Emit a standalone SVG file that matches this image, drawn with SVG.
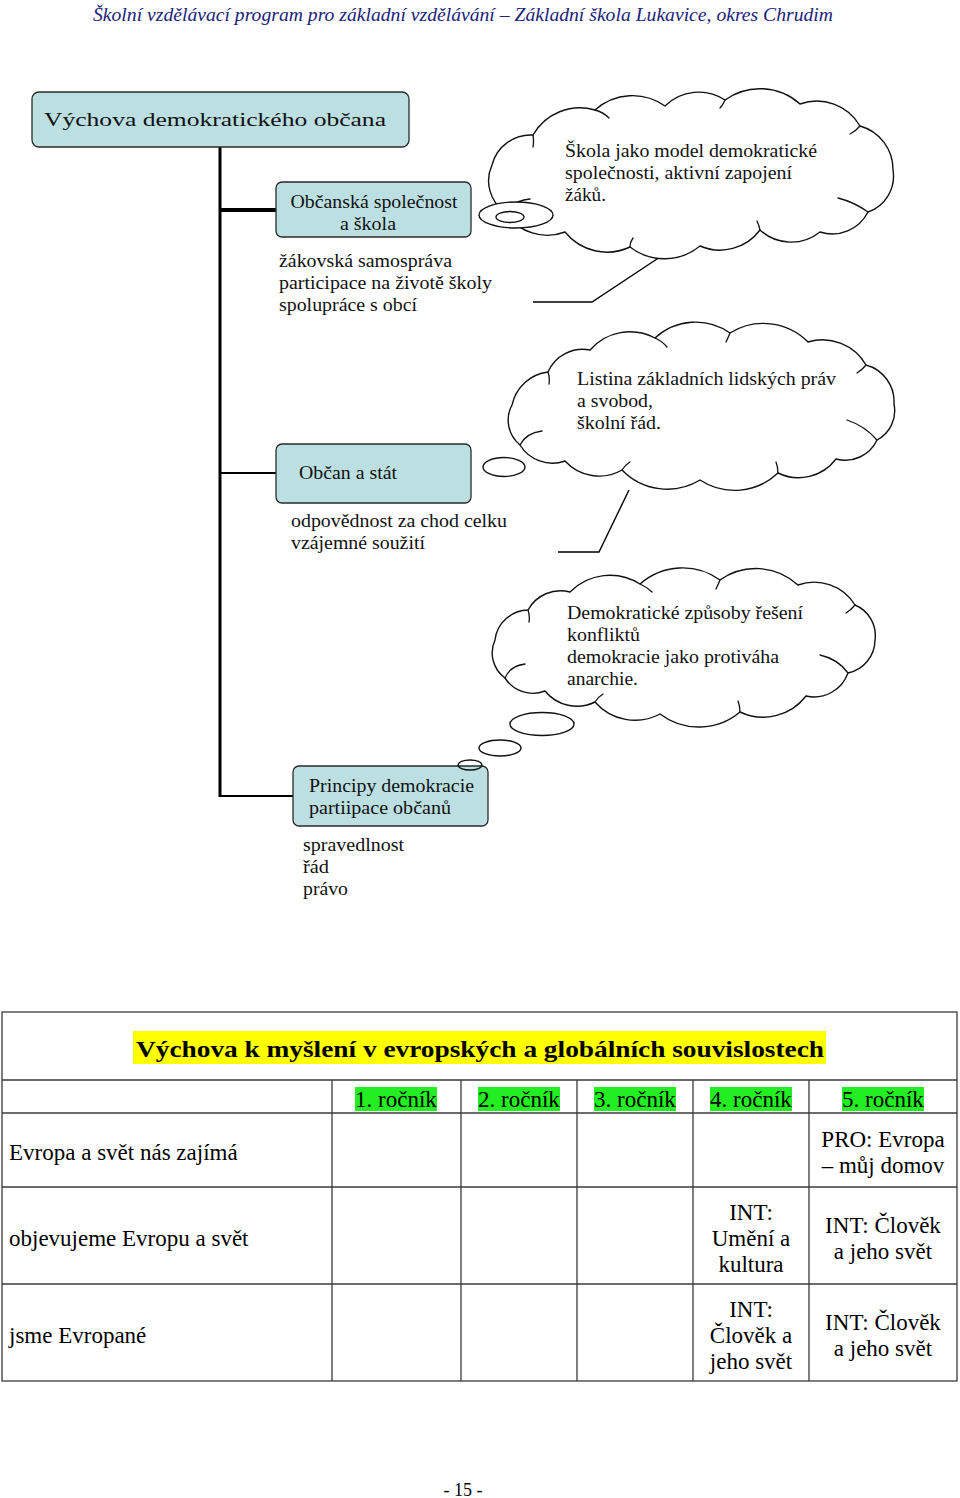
<svg xmlns="http://www.w3.org/2000/svg" width="960" height="1498" viewBox="0 0 960 1498">
<style>
.t{font-family:"Liberation Serif","Times New Roman",serif;fill:#111;font-size:18px}
.box{fill:#BCDFE2;stroke:#2a2a2a;stroke-width:1.3}
.cloud{fill:#fff;stroke:#111;stroke-width:1.4;stroke-linejoin:round}
.deco{fill:none;stroke:#111;stroke-width:1.3;stroke-linecap:round}
.bub{fill:#fff;stroke:#111;stroke-width:1.4}
.conn{stroke:#000;fill:none}
.tl{stroke:#3a3a3a;stroke-width:1.3;fill:none}
.tt{font-family:"Liberation Serif","Times New Roman",serif;fill:#000;font-size:23px}
.c{text-anchor:middle}
</style>
<rect width="960" height="1498" fill="#fff"/>
<text x="463" y="21" text-anchor="middle" font-family="Liberation Serif, serif" font-style="italic" font-size="18" fill="#1c237a" textLength="740" lengthAdjust="spacingAndGlyphs">Školní vzdělávací program pro základní vzdělávání – Základní škola Lukavice, okres Chrudim</text>

<g id="connectors">
<line class="conn" x1="220" y1="147" x2="220" y2="797" stroke-width="3"/>
<line class="conn" x1="219" y1="210" x2="277" y2="210" stroke-width="4"/>
<line class="conn" x1="219" y1="473" x2="277" y2="473" stroke-width="2.2"/>
<line class="conn" x1="219" y1="796" x2="294" y2="796" stroke-width="2.2"/>
<polyline class="conn" stroke-width="1.4" points="660,257 592,302 533,302"/>
<polyline class="conn" stroke-width="1.4" points="629,490 599,552 558,552"/>
</g>

<g id="root">
<rect class="box" x="32" y="92" width="377" height="55" rx="7"/>
<text class="t" x="44" y="126" font-size="24" textLength="342" lengthAdjust="spacingAndGlyphs">Výchova demokratického občana</text>
</g>

<g id="node-obcanska">
<rect class="box" x="276" y="182" width="195" height="55" rx="6"/>
<text class="t c" x="374" y="208" textLength="167" lengthAdjust="spacingAndGlyphs">Občanská společnost</text>
<text class="t c" x="368" y="230" textLength="56" lengthAdjust="spacingAndGlyphs">a škola</text>
<text class="t" x="279" y="267" textLength="173" lengthAdjust="spacingAndGlyphs">žákovská samospráva</text>
<text class="t" x="279" y="289" textLength="213" lengthAdjust="spacingAndGlyphs">participace na životě školy</text>
<text class="t" x="279" y="311" textLength="138" lengthAdjust="spacingAndGlyphs">spolupráce s obcí</text>
</g>

<g id="cloud-1">
<path class="cloud" d="M505,212 A38,38 0 0 1 492,165 A40,40 0 0 1 533,135 A54,54 0 0 1 595,110 A56,56 0 0 1 665,106 A48,48 0 0 1 725,100 A60,60 0 0 1 800,104 A50,50 0 0 1 860,126 A45,45 0 0 1 893,170 A38,38 0 0 1 868,212 A40,40 0 0 1 820,232 A46,46 0 0 1 760,230 A50,50 0 0 1 700,246 A56,56 0 0 1 630,247 A54,54 0 0 1 565,232 A50,50 0 0 1 505,212 Z"/>
<path class="deco" d="M533,135 q1,6 0,12 M595,110 q8,2 14,8 M725,100 q-2,5 -5,8 M860,126 q-4,5 -10,8 M868,212 q-14,-10 -30,-14 M760,230 q-1,-5 -3,-9 M630,247 q0,-5 3,-9 M505,212 q10,-12 25,-13"/>
<ellipse class="bub" cx="516" cy="215" rx="37" ry="13"/>
<ellipse class="bub" cx="510" cy="217" rx="14" ry="5.5"/>
<text class="t" x="565" y="157" textLength="252" lengthAdjust="spacingAndGlyphs">Škola jako model demokratické</text>
<text class="t" x="565" y="179" textLength="227" lengthAdjust="spacingAndGlyphs">společnosti, aktivní zapojení</text>
<text class="t" x="565" y="201" textLength="41" lengthAdjust="spacingAndGlyphs">žáků.</text>
</g>

<g id="node-obcan">
<rect class="box" x="276" y="444" width="195" height="59" rx="6"/>
<text class="t" x="299" y="479" textLength="98" lengthAdjust="spacingAndGlyphs">Občan a stát</text>
<text class="t" x="291" y="527" textLength="216" lengthAdjust="spacingAndGlyphs">odpovědnost za chod celku</text>
<text class="t" x="291" y="549" textLength="134" lengthAdjust="spacingAndGlyphs">vzájemné soužití</text>
</g>

<g id="cloud-2">
<path class="cloud" d="M520,445 A32,32 0 0 1 512,405 A42,42 0 0 1 548,372 A38,38 0 0 1 590,350 A53,53 0 0 1 655,338 A60,60 0 0 1 730,333 A63,63 0 0 1 808,342 A50,50 0 0 1 866,365 A38,38 0 0 1 894,404 A33,33 0 0 1 877,440 A35,35 0 0 1 836,459 A47,47 0 0 1 778,473 A63,63 0 0 1 700,480 A63,63 0 0 1 622,470 A46,46 0 0 1 565,461 A38,38 0 0 1 520,445 Z"/>
<path class="deco" d="M548,372 q2,6 1,12 M655,338 q7,3 12,9 M730,333 q-2,5 -4,9 M866,365 q-4,5 -9,8 M877,440 q-12,-14 -30,-20 M778,473 q0,-6 -2,-11 M622,470 q3,-5 8,-8 M520,445 q6,-12 22,-14"/>
<ellipse class="bub" cx="504" cy="467" rx="21" ry="9.5"/>
<text class="t" x="577" y="385" textLength="259" lengthAdjust="spacingAndGlyphs">Listina základních lidských práv</text>
<text class="t" x="577" y="407" textLength="76" lengthAdjust="spacingAndGlyphs">a svobod,</text>
<text class="t" x="577" y="429" textLength="84" lengthAdjust="spacingAndGlyphs">školní řád.</text>
</g>

<g id="cloud-3">
<path class="cloud" d="M505,678 A31,31 0 0 1 495,640 A34,34 0 0 1 528,610 A37,37 0 0 1 570,592 A56,56 0 0 1 640,584 A64,64 0 0 1 720,580 A62,62 0 0 1 798,585 A48,48 0 0 1 855,605 A33,33 0 0 1 875,640 A34,34 0 0 1 848,673 A36,36 0 0 1 806,696 A54,54 0 0 1 740,712 A64,64 0 0 1 660,714 A53,53 0 0 1 595,702 A41,41 0 0 1 545,691 A33,33 0 0 1 505,678 Z"/>
<path class="deco" d="M528,610 q2,6 1,12 M640,584 q7,3 12,8 M720,580 q-2,5 -4,9 M855,605 q-4,5 -9,8 M848,673 q-10,-14 -28,-18 M740,712 q0,-6 -2,-11 M595,702 q3,-5 8,-8 M505,678 q5,-12 20,-14"/>
<ellipse class="bub" cx="542" cy="724" rx="32" ry="11.5"/>
<ellipse class="bub" cx="500" cy="748" rx="21" ry="8"/>
<text class="t" x="567" y="619" textLength="236" lengthAdjust="spacingAndGlyphs">Demokratické způsoby řešení</text>
<text class="t" x="567" y="641" textLength="73" lengthAdjust="spacingAndGlyphs">konfliktů</text>
<text class="t" x="567" y="663" textLength="212" lengthAdjust="spacingAndGlyphs">demokracie jako protiváha</text>
<text class="t" x="567" y="685" textLength="71" lengthAdjust="spacingAndGlyphs">anarchie.</text>
</g>

<g id="node-principy">
<rect class="box" x="293" y="766" width="195" height="60" rx="6"/>
<ellipse cx="470" cy="765" rx="12" ry="5" fill="none" stroke="#111" stroke-width="1.3"/>
<text class="t" x="309" y="792" textLength="165" lengthAdjust="spacingAndGlyphs">Principy demokracie</text>
<text class="t" x="309" y="814" textLength="142" lengthAdjust="spacingAndGlyphs">partiipace občanů</text>
<text class="t" x="303" y="851" textLength="101" lengthAdjust="spacingAndGlyphs">spravedlnost</text>
<text class="t" x="303" y="873" textLength="26" lengthAdjust="spacingAndGlyphs">řád</text>
<text class="t" x="303" y="895" textLength="45" lengthAdjust="spacingAndGlyphs">právo</text>
</g>

<g id="table">
<rect x="133" y="1031" width="693" height="33" fill="#ffff00"/>
<rect x="355" y="1087" width="82" height="24" fill="#22ee22"/>
<rect x="478" y="1087" width="82" height="24" fill="#22ee22"/>
<rect x="594" y="1087" width="82" height="24" fill="#22ee22"/>
<rect x="710" y="1087" width="82" height="24" fill="#22ee22"/>
<rect x="842" y="1087" width="82" height="24" fill="#22ee22"/>
<rect class="tl" x="2" y="1012" width="955" height="369" stroke-width="1.8"/>
<line class="tl" x1="2" y1="1080" x2="957" y2="1080" stroke-width="1.8"/>
<line class="tl" x1="2" y1="1113" x2="957" y2="1113"/>
<line class="tl" x1="2" y1="1187" x2="957" y2="1187"/>
<line class="tl" x1="2" y1="1284" x2="957" y2="1284"/>
<line class="tl" x1="332" y1="1080" x2="332" y2="1381"/>
<line class="tl" x1="461" y1="1080" x2="461" y2="1381"/>
<line class="tl" x1="577" y1="1080" x2="577" y2="1381"/>
<line class="tl" x1="693" y1="1080" x2="693" y2="1381"/>
<line class="tl" x1="809" y1="1080" x2="809" y2="1381"/>
<text class="tt" x="136" y="1057" font-size="26" font-weight="bold" textLength="688" lengthAdjust="spacingAndGlyphs">Výchova k myšlení v evropských a globálních souvislostech</text>
<text class="tt c" x="396" y="1107">1. ročník</text>
<text class="tt c" x="519" y="1107">2. ročník</text>
<text class="tt c" x="635" y="1107">3. ročník</text>
<text class="tt c" x="751" y="1107">4. ročník</text>
<text class="tt c" x="883" y="1107">5. ročník</text>
<text class="tt" x="9" y="1160">Evropa a svět nás zajímá</text>
<text class="tt c" x="883" y="1147">PRO: Evropa</text>
<text class="tt c" x="883" y="1173">– můj domov</text>
<text class="tt" x="9" y="1246">objevujeme Evropu a svět</text>
<text class="tt c" x="751" y="1220">INT:</text>
<text class="tt c" x="751" y="1246">Umění a</text>
<text class="tt c" x="751" y="1272">kultura</text>
<text class="tt c" x="883" y="1233">INT: Člověk</text>
<text class="tt c" x="883" y="1259">a jeho svět</text>
<text class="tt" x="9" y="1343">jsme Evropané</text>
<text class="tt c" x="751" y="1317">INT:</text>
<text class="tt c" x="751" y="1343">Člověk a</text>
<text class="tt c" x="751" y="1369">jeho svět</text>
<text class="tt c" x="883" y="1330">INT: Člověk</text>
<text class="tt c" x="883" y="1356">a jeho svět</text>
</g>

<text x="463" y="1496" text-anchor="middle" font-family="Liberation Serif, serif" font-size="18" fill="#000">- 15 -</text>
</svg>
